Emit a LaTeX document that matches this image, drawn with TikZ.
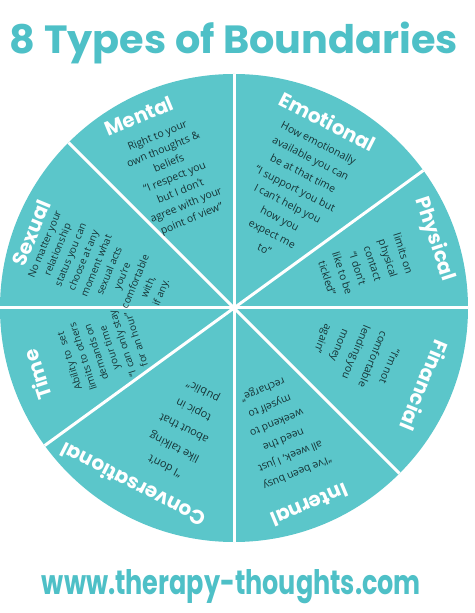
\documentclass[tikz,border=0pt]{standalone}
\usepackage{fontspec}
\setmainfont{Open Sans}
\newfontfamily\headfont{Poppins}
\definecolor{teal1}{HTML}{5BC6CA}
\definecolor{titlec}{HTML}{4EC0C7}
\definecolor{bodyc}{HTML}{163436}
\begin{document}
\begin{tikzpicture}[x=1pt,y=1pt,
  head/.style={font=\headfont\bfseries\fontsize{20}{22}\selectfont, text=white, inner sep=0pt},
  body/.style={font=\fontsize{10.5}{#1}\selectfont, text=bodyc, align=center, inner sep=0pt},
  body/.default=15.5,
  divider/.style={draw=white, line width=3pt}]
\useasboundingbox (-234,-305) rectangle (240,308);
\fill[white] (-234,-305) rectangle (240,308);
\node[circle, fill=teal1, minimum size=468pt, inner sep=0pt, outer sep=0pt] (disc) at (0,0) {};
\foreach \a in {0,36,90,135,180,216,270,315} \draw[divider] (disc.center) -- (disc.\a);
% headings
\node[head, rotate=-27] (hemo) at (63.3:209) {Emotional};
\node[head, rotate=22.5] (hmen) at (116.3:214) {Mental};
\node[head, rotate=67.5] (hsex) at (159.7:216) {Sexual};
\node[head, rotate=108] (htim) at (198.8:208) {Time};
\node[head, rotate=153] (hcon) at (240.3:204) {Conversational};
\node[head, rotate=202.5] (hint) at (-69:211) {Internal};
\node[head, rotate=247.5] (hfin) at (-22.2:206) {Financial};
\node[head, rotate=-72] (hphy) at (19:212) {Physical};
% bodies
\node[body=15, rotate=22.5] (bmen) at (114.4:143) {Right to your\\own thoughts \&\\beliefs\\“I respect you\\but I don't\\agree with your\\point of view”};
\node[body=17, rotate=-27] (bemo) at (62.8:126) {How emotionally\\available you can\\be at that time\\“I support you but\\I can't help you\\how you\\expect me\\to”};
\node[body=16, rotate=-72] (bphy) at (17.8:138) {limits on\\physical\\contact\\“I don't\\like to be\\tickled”};
\node[body=18, rotate=247.5] (bfin) at (-20:129) {“I'm not\\comfortable\\lending you\\money\\again”};
\node[body=18, rotate=202.5] (bint) at (-69.5:131) {“I've been busy\\all week, I just\\need the\\weekend to\\myself to\\recharge”};
\node[body=21, rotate=153, font=\fontsize{11}{21}\selectfont] (bcon) at (247.5:130) {“I don't\\like talking\\about that\\topic in\\public”};
\node[body=14, rotate=108, font=\fontsize{10}{14}\selectfont] (btim) at (197.8:138) {Ability to \ set\\limits to others\\demands on\\your time\\“I can only stay\\for an hour”};
\node[body=14, rotate=67.5, font=\fontsize{10}{14}\selectfont] (bsex) at (163.2:136) {No matter your\\relationship\\status you can\\choose at any\\moment what\\sexual acts\\you're\\comfortable\\with,\\if any.};
% title and url
\node[font=\headfont\bfseries\fontsize{43}{50}\selectfont, text=titlec, anchor=base, inner sep=0pt] (title) at (0,254) {\resizebox{448pt}{31.5pt}{8 Types of Boundaries}};
\node[font=\headfont\bfseries\fontsize{28}{32}\selectfont, text=titlec, anchor=base, inner sep=0pt] (url) at (-2.5,-286) {\resizebox{379pt}{25pt}{www.therapy-thoughts.com}};
\end{tikzpicture}
\end{document}
